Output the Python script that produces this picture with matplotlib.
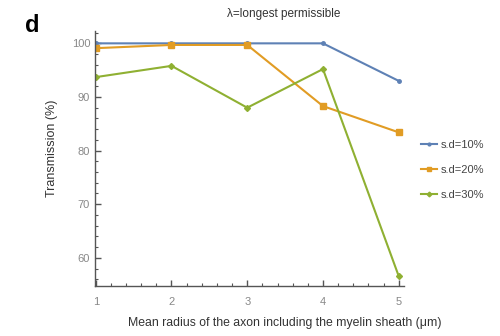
import matplotlib
matplotlib.use("Agg")
import matplotlib.pyplot as plt
from matplotlib.ticker import MultipleLocator

radius = [1, 2, 3, 4, 5]
sd10 = [100.0, 100.0, 100.0, 100.0, 93.0]
sd20 = [99.1, 99.7, 99.7, 88.3, 83.4]
sd30 = [93.7, 95.8, 88.0, 95.2, 56.6]
labels = ["s.d=10%", "s.d=20%", "s.d=30%"]

blue = "#5E81B5"
orange = "#E19C24"
green = "#8FB032"
axis_col = "#555555"
tick_col = "#888888"

plt.rcParams["font.family"] = ["Liberation Sans", "DejaVu Sans"]

fig = plt.figure(figsize=(5.0, 3.36), dpi=100)
ax = fig.add_axes([0.19, 0.1497, 0.618, 0.758])

ax.plot(radius, sd10, color=blue, lw=1.5, marker="o", ms=2.5, label=labels[0])
ax.plot(radius, sd20, color=orange, lw=1.5, marker="s", ms=4, label=labels[1])
ax.plot(radius, sd30, color=green, lw=1.5, marker="D", ms=3, label=labels[2])

ax.set_xlim(0.99, 5.07)
ax.set_ylim(54.8, 102.3)
ax.xaxis.set_major_locator(MultipleLocator(1))
ax.xaxis.set_minor_locator(MultipleLocator(0.2))
ax.yaxis.set_major_locator(MultipleLocator(10))
ax.yaxis.set_minor_locator(MultipleLocator(2))

for s in ["top", "right"]:
    ax.spines[s].set_visible(False)
for s in ["left", "bottom"]:
    ax.spines[s].set_color(axis_col)
    ax.spines[s].set_linewidth(1.0)

ax.tick_params(which="both", direction="in", colors=axis_col, labelcolor=tick_col,
               labelsize=8)
ax.tick_params(which="major", length=4, width=1.0)
ax.tick_params(which="minor", length=2.5, width=0.8)
ax.tick_params(axis="x", pad=8)

ax.set_xlabel("Mean radius of the axon including the myelin sheath (μm)",
              fontsize=8.8, color="#333333")
ax.xaxis.set_label_coords(0.615, -0.123)
ax.set_ylabel("Transmission (%)", fontsize=9, color="#333333")
ax.yaxis.set_label_coords(-0.12, 0.539)

fig.text(0.568, 0.958, "λ=longest permissible", ha="center", va="center",
         fontsize=8.5, color="#333333")
fig.text(0.064, 0.925, "d", ha="center", va="center", fontsize=17,
         fontweight="bold", color="black")

ax.legend(loc="center left", bbox_to_anchor=(0.822, 0.494),
          bbox_transform=fig.transFigure, frameon=False, fontsize=8,
          handlelength=1.4, handletextpad=0.4, labelspacing=1.35,
          labelcolor="#444444", markerscale=0.8)

fig.savefig("out.png", dpi=100)
